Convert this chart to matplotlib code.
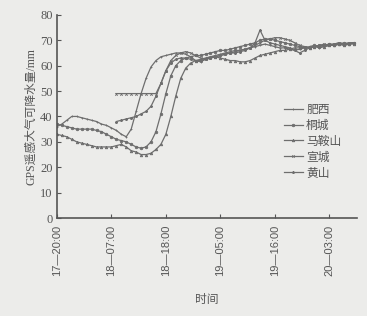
import numpy as np
import matplotlib
matplotlib.use("Agg")
import matplotlib.pyplot as plt

plt.rcParams['font.family'] = ['Liberation Serif', 'Noto Sans CJK SC', 'DejaVu Sans']

nan = np.nan
hours = list(range(61))
tick_hours = [0, 11, 22, 33, 44, 55]
tick_labels = ["17—20:00", "18—07:00", "18—18:00", "19—05:00", "19—16:00", "20—03:00"]
names = ["肥西", "桐城", "马鞍山", "宣城", "黄山"]

feixi = [36, 37, 38.5, 40, 40, 39.5, 39, 38.5, 38, 37, 36.5, 35.5, 34.5, 33, 32,
         35, 42, 49, 55, 59.5,
         62, 63.5, 64, 64.5, 65, 65, 64.5, 63.5, 62, 61.5,
         62.5, 63.5, 64, 64.5, 65, 65.5, 66, 66, 66.5, 67,
         67.5, 68, 68.5, 68, 67.5, 67, 67, 66.5, 66, 66.5,
         67, 67, 67.5, 67, 67.5, 68, 68, 68.5, 68, 68.5, 69]
tongcheng = [37, 36.5, 36, 35.5, 35, 35, 35, 35, 34.5, 34, 33, 32, 31, 30.5, 30,
             29, 28, 27.5, 28, 30,
             34, 41, 49, 56, 60, 62, 63, 63.5, 64, 64,
             64.5, 65, 65.5, 66, 66, 66.5, 67, 67.5, 68, 68.5,
             69, 70, 70.5, 70.5, 70, 69.5, 69, 68.5, 68, 67.5,
             67, 67.5, 68, 67.5, 68, 68.5, 68, 68.5, 69, 68.5, 69]
maanshan = [33, 32.5, 32, 31, 30, 29.5, 29, 28.5, 28, 28, 28, 28, 28.5, 29, 28,
            26.5, 26, 25, 25, 25.5,
            27, 29, 33, 40, 48, 55, 59, 61, 62, 62.5,
            63, 63.5, 63.5, 63, 62.5, 62, 62, 61.5, 61.5, 62,
            63, 64, 64.5, 65, 65.5, 66, 66, 66.5, 67, 67,
            67.5, 67, 67.5, 68, 67.5, 68, 68, 68.5, 68, 68.5, 68.5]
xuancheng = [nan] * 12 + [49] * 9 + \
            [53, 58, 62, 64, 65, 65.5, 65, 64, 63, 62.5,
             63, 63.5, 64, 64.5, 65, 65.5, 66, 66.5, 67, 68,
             69, 70, 70.5, 71, 71, 70.5, 70, 69, 68, 67.5,
             67, 67.5, 68, 68.5, 68, 68.5, 69, 68.5, 69, 69]
huangshan = [nan] * 12 + [38, 38.5, 39, 39.5, 40, 41, 42, 44, 48] + \
            [53, 58, 61, 62.5, 63, 63, 62.5, 62, 62, 62.5,
             63, 63.5, 64, 64.5, 65, 65, 65.5, 66, 67, 69,
             74, 70, 69, 68.5, 68, 67.5, 67, 66, 65, 66,
             67, 67.5, 68, 68, 68.5, 68.5, 69, 68.5, 69, 69]

series = [feixi, tongcheng, maanshan, xuancheng, huangshan]
markers = ['+', 'o', '^', 'x', '*']

bg = '#ececea'
fig = plt.figure(figsize=(3.67, 3.16), dpi=100, facecolor=bg)
ax = fig.add_axes([0.155, 0.31, 0.818, 0.643], facecolor=bg)

for name, vals, m in zip(names, series, markers):
    ax.plot(hours, vals, color='#6e6e6e', lw=0.9, marker=m, ms=1.8,
            mew=0.6, label=name)

ax.set_xlim(0, 60.6)
ax.set_ylim(0, 80)
ax.set_yticks(range(0, 81, 10))
ax.set_xticks(tick_hours)
ax.set_xticklabels(tick_labels, rotation=90, fontsize=8,
                   family=['Liberation Sans', 'DejaVu Sans'], color='#555555')
ax.tick_params(axis='y', direction='in', length=3, labelsize=9,
               colors='#555555', pad=3)
ax.tick_params(axis='x', direction='in', length=3, colors='#555555', pad=5)
for s in ['top', 'right']:
    ax.spines[s].set_visible(False)
for s in ['left', 'bottom']:
    ax.spines[s].set_color('#555555')
    ax.spines[s].set_linewidth(1.2)

ax.set_ylabel("GPS遥感大气可降水量/mm", fontsize=8.5, color='#555555',
              family=['Liberation Serif', 'Noto Sans CJK SC'], labelpad=2)
ax.set_xlabel("时间", fontsize=8.5, color='#555555',
              family=['Noto Sans CJK SC'], labelpad=12)

leg = ax.legend(loc='upper left', bbox_to_anchor=(0.72, 0.62), frameon=False,
                handlelength=1.6, handletextpad=0.3,
                labelspacing=0.25, prop={'family': ['Noto Sans CJK SC'], 'size': 8.5})
for t in leg.get_texts():
    t.set_color('#555555')

fig.savefig("out.png", dpi=100, facecolor=bg)
